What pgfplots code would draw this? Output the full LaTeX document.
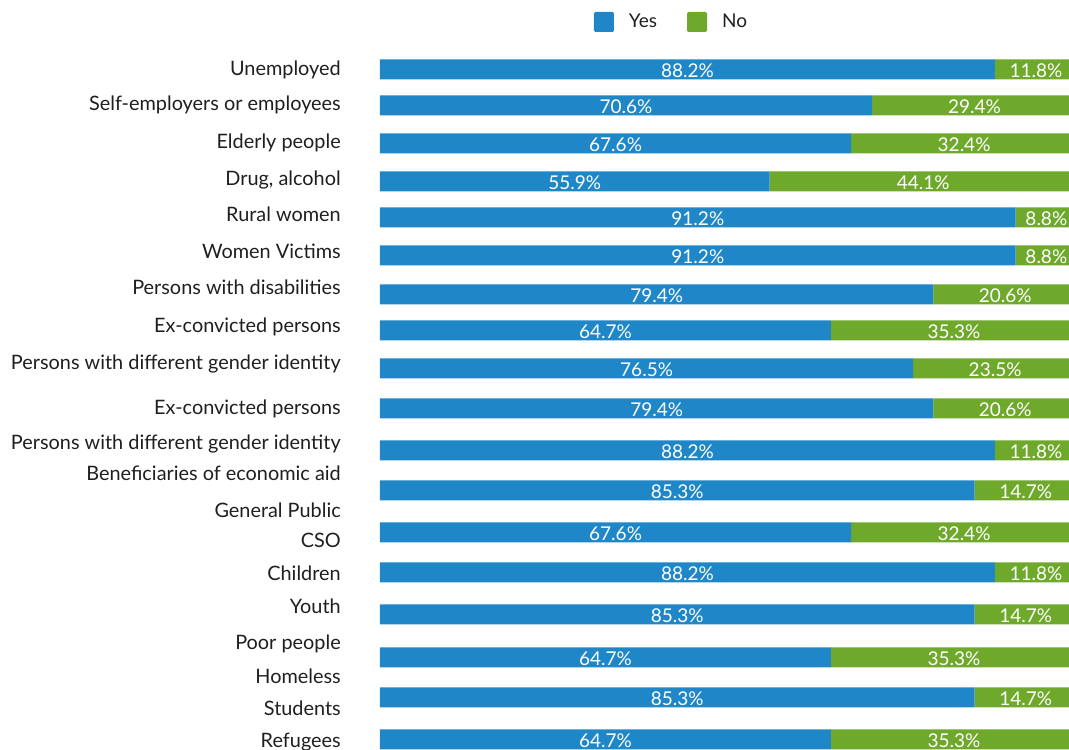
\documentclass[border=0pt]{standalone}
\usepackage{pgfplots}
\pgfplotsset{compat=1.18}
\usepackage{pgfplotstable}
\usepackage{fontspec}
\setmainfont{Lato}
\definecolor{cyes}{RGB}{31,135,200}
\definecolor{cno}{RGB}{110,169,44}

\pgfplotstableread{
y yes no
-69.5 88.2 11.8
-105.5 70.6 29.4
-143.5 67.6 32.4
-181.5 55.9 44.1
-217.5 91.2 8.8
-255.5 91.2 8.8
-294.5 79.4 20.6
-330.5 64.7 35.3
-368.5 76.5 23.5
-408.5 79.4 20.6
-450.5 88.2 11.8
-490.5 85.3 14.7
-532.5 67.6 32.4
-572.5 88.2 11.8
-614.5 85.3 14.7
-657.5 64.7 35.3
-697.5 85.3 14.7
-739.5 64.7 35.3
}\data

\pgfplotsset{common/.style={width=516.75pt, height=562.5pt, scale only axis,
  xmin=0, xmax=98.85, ymin=-750, ymax=0}}

\begin{document}
\begin{tikzpicture}
\begin{axis}[common, xbar stacked, bar width=15pt,
  axis x line=none, axis y line*=left, y axis line style={draw=none},
  major tick length=0pt, ytick style={draw=none},
  ytick={-76,-111,-149,-186,-222,-259,-295,-333,-370,-415,-450,-481,-518,-548,-581,-614,-650,-684,-716,-748},
  yticklabels={Unemployed, Self-employers or employees, Elderly people, {Drug, alcohol}, Rural women, Women Victims, Persons with disabilities, Ex-convicted persons, Persons with different gender identity, Ex-convicted persons, Persons with different gender identity, Beneficiaries of economic aid, General Public, CSO, Children, Youth, Poor people, Homeless, Students, Refugees},
  yticklabel style={anchor=base east, inner sep=0pt, xshift=-29.25pt, font=\fontsize{14.9}{17}\selectfont, text=black!88},
  legend style={at={(axis description cs:0.3106,0.9707)}, anchor=west, draw=none, fill=none,
    inner sep=0pt, outer sep=0pt, font=\fontsize{14.25}{17}\selectfont, text=black!88,
    nodes={inner sep=0pt}, /tikz/every even column/.append style={column sep=22.5pt}},
  legend columns=2,
  legend image code/.code={\fill[#1, draw=none, rounded corners=1pt] (0pt,-7.5pt) rectangle (15pt,7.5pt); \path (26.25pt,0pt);},
]
\addplot[fill=cyes, draw=none] table[x=yes, y=y]{\data};
\addlegendentry{Yes}
\addplot[fill=cno, draw=none] table[x=no, y=y]{\data};
\addlegendentry{No}
\coordinate (bl) at (rel axis cs:0,0);
\coordinate (tr) at (rel axis cs:1,1);
\end{axis}
\begin{axis}[common, hide axis, clip=false, /pgf/number format/assume math mode=true]
\addplot[draw=none, mark=none, point meta=explicit,
  nodes near coords={\pgfmathprintnumber[fixed,fixed zerofill,precision=1]{\pgfplotspointmeta}\%},
  every node near coord/.append style={anchor=center, text=white, inner sep=0pt, font=\fontsize{14.25}{17}\selectfont, yshift=-1.1pt}]
  table[x expr=\thisrow{yes}/2, y=y, meta=yes]{\data};
\addplot[draw=none, mark=none, point meta=explicit,
  nodes near coords={\pgfmathprintnumber[fixed,fixed zerofill,precision=1]{\pgfplotspointmeta}\%},
  every node near coord/.append style={anchor=center, text=white, inner sep=0pt, font=\fontsize{14.25}{17}\selectfont, yshift=-1.1pt}]
  table[x expr=\thisrow{yes}+\thisrow{no}/2, y=y, meta=no]{\data};
\end{axis}
\pgfresetboundingbox
\path ([xshift=-285pt]bl) rectangle (tr);
\end{tikzpicture}
\end{document}
